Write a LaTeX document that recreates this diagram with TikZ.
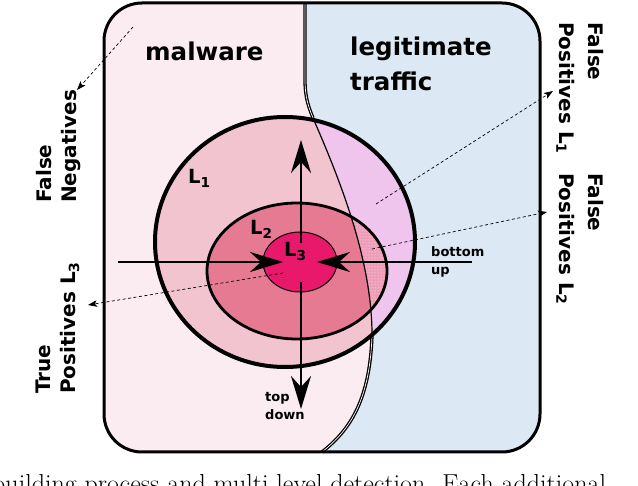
\documentclass[tikz,border=0pt]{standalone}
\usepackage{fontspec}
\newfontfamily\lbf{DejaVu Sans}
\usetikzlibrary{arrows.meta,patterns}
\definecolor{malbg}{HTML}{FBECF1}
\definecolor{legbg}{HTML}{DCE8F4}
\definecolor{lonem}{HTML}{F2C4D0}
\definecolor{lonel}{HTML}{EFC4ED}
\definecolor{ltwom}{HTML}{E67A93}
\definecolor{ltwol}{HTML}{EE9DB8}
\definecolor{lthree}{HTML}{E8196B}
\tikzset{
  lbl/.style={font=\lbf\bfseries\fontsize{20}{25}\selectfont, inner sep=0pt, align=left},
  lblr/.style={font=\lbf\bfseries\fontsize{20}{29}\selectfont, inner sep=0pt, align=left},
  lblbig/.style={font=\lbf\bfseries\fontsize{24.5}{35}\selectfont, inner sep=0pt, align=left},
  lblsmall/.style={font=\lbf\bfseries\fontsize{13}{18.5}\selectfont, inner sep=0pt, align=left},
  lvl/.style={font=\lbf\bfseries\fontsize{19.5}{24}\selectfont, inner sep=0pt, anchor=base west},
  thickarrow/.style={line width=2.5pt, -{Stealth[length=33pt,width=20pt,inset=11pt]}},
  dasharrow/.style={line width=0.7pt, dash pattern=on 3pt off 2.5pt, -{Stealth[length=9pt,width=6.5pt,inset=2pt]}},
  divline/.style={draw=black, line width=1.3pt, double=white, double distance=0.7pt},
}
\def\malpath{(90,-10) -- (305,-10) -- (305,80) .. controls (305,100) and (310,110) .. (313,118) .. controls (340,180) and (372,260) .. (372,335) .. controls (370,400) and (350,430) .. (318,460) -- (90,460) -- cycle}
\begin{document}
\begin{tikzpicture}[x=1pt,y=-1pt]
\useasboundingbox (0,0) rectangle (638,486);
\clip (0,0) rectangle (638,486);
\fill[white] (0,0) rectangle (638,486);
% regions
\begin{scope}
  \clip[rounded corners=38pt] (104,3) rectangle (540,452);
  \fill[legbg] (95,-5) rectangle (550,460);
  \fill[malbg] \malpath;
  \fill[lonel] (285,242) ellipse [x radius=130, y radius=125];
  \begin{scope}
    \clip \malpath;
    \fill[lonem] (285,242) ellipse [x radius=130, y radius=125];
  \end{scope}
  \fill[ltwol] (297,271) ellipse [x radius=90, y radius=68];
  \fill[pattern=dots, pattern color=white!85!ltwol] (297,271) ellipse [x radius=90, y radius=68];
  \begin{scope}
    \clip \malpath;
    \fill[ltwom] (297,271) ellipse [x radius=90, y radius=68];
  \end{scope}
  \fill[lthree] (300,262) ellipse [x radius=37, y radius=30];
\end{scope}
% divider
\draw[divline] (305,3) -- (305,80) .. controls (305,100) and (310,110) .. (313,118);
\draw[line width=1.2pt] (313,118) .. controls (340,180) and (372,260) .. (372,335);
\draw[divline] (372,335) .. controls (370,400) and (350,430) .. (322,452);
% level outlines
\draw[line width=4pt] (285,242) ellipse [x radius=130, y radius=125];
\draw[line width=2.8pt] (297,271) ellipse [x radius=90, y radius=68];
\draw[line width=1pt] (300,262) ellipse [x radius=37, y radius=30];
% outer frame
\draw[line width=3pt, rounded corners=38pt] (104,3) rectangle (540,452);
% arrows
\coordinate (upS) at (301,243);
\coordinate (upT) at (301,140);
\coordinate (dnS) at (301,282);
\coordinate (dnT) at (301,409);
\coordinate (lfS) at (118,262);
\coordinate (lfT) at (283,262);
\coordinate (rtS) at (472,262);
\coordinate (rtT) at (317,262);
\draw[thickarrow] (upS) -- (upT);
\draw[thickarrow] (dnS) -- (dnT);
\draw[thickarrow] (lfS) -- (lfT);
\draw[thickarrow] (rtS) -- (rtT);
% texts
\node[lblbig, anchor=base west] (mal) at (145,61) {malware};
\node[lblbig, anchor=north west] (leg) at (350,37) {legitimate\\traffic};
\node[lblsmall, anchor=north west] (bu) at (431,246) {bottom\\up};
\node[lblsmall, anchor=north west] (td) at (265,392) {top\\down};
\node[lvl] (l1) at (188,184) {L\textsubscript{1}};
\node[lvl] (l2) at (250,235) {L\textsubscript{2}};
\node[lvl] (l3) at (284,257) {L\textsubscript{3}};
\node[lbl, rotate=90, anchor=north west] (fn) at (36,203) {False\\Negatives};
\node[lbl, rotate=90, anchor=north west] (tp) at (36,394) {True\\Positives L\textsubscript{3}};
\node[lblr, rotate=-90, anchor=north west] (fp1) at (604,22) {False\\Positives L\textsubscript{1}};
\node[lblr, rotate=-90, anchor=north west] (fp2) at (604,173) {False\\Positives L\textsubscript{2}};
% dashed pointers
\coordinate (fnS) at (133,27);
\coordinate (fnT) at (77,90);
\coordinate (fp1S) at (376,204);
\coordinate (fp1T) at (553,91);
\coordinate (fp2S) at (372,249);
\coordinate (fp2T) at (547,212);
\coordinate (tpS) at (283,273);
\coordinate (tpT) at (88,305);
\draw[dasharrow] (fnS) -- (fnT);
\draw[dasharrow] (fp1S) -- (fp1T);
\draw[dasharrow] (fp2S) -- (fp2T);
\draw[dasharrow] (tpS) -- (tpT);
% caption (cropped, as in the reference)
\node[anchor=base west, inner sep=0pt, font=\fontsize{26}{30}\selectfont] (cap) at (-8,493) {building process and multi level detection. Each additional};
\end{tikzpicture}
\end{document}
